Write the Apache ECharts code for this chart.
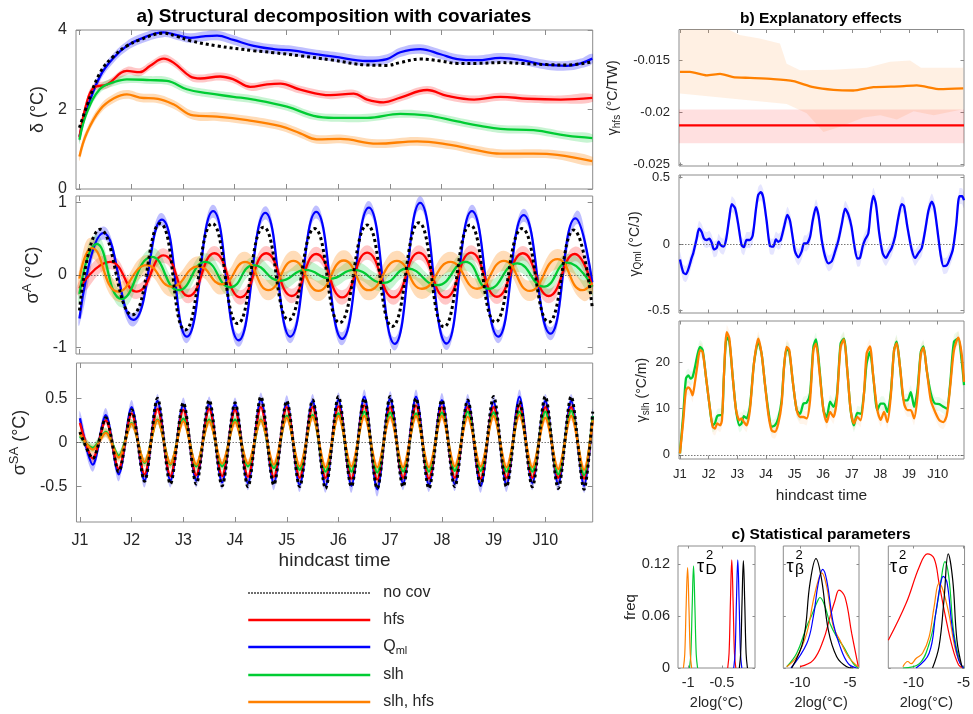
<!DOCTYPE html>
<html>
<head>
<meta charset="utf-8">
<script src="https://cdn.jsdelivr.net/npm/echarts@6/dist/echarts.min.js"></script>
<style>
  html, body { margin: 0; padding: 0; background: #fff; }
  #chart { width: 973px; height: 714px; }
</style>
</head>
<body>
<div id="chart"></div>
<script>
// x positions are months since J1 (January of hindcast year 1)
const janTicks = [0, 12, 24, 36, 48, 60, 72, 84, 96, 108];
const janLabels = ['J1', 'J2', 'J3', 'J4', 'J5', 'J6', 'J7', 'J8', 'J9', 'J10'];

// a) delta
const deltaTicks = [0, 2, 4];
const deltaNoCov = [[0,1.54],[1.7,2.08],[4.8,2.93],[8,3.35],[11,3.6],[14,3.75],[19.5,3.92],[22.6,3.84],[25.7,3.73],[31.9,3.6],[40.4,3.48],[45,3.43],[51.2,3.35],[58.2,3.25],[66.7,3.12],[71.3,3.11],[74.4,3.18],[79,3.27],[83.7,3.22],[87.6,3.16],[92.2,3.16],[97.6,3.18],[102.3,3.16],[108.4,3.13],[113,3.12],[118.9,3.2]];
const deltaQml = [[0,1.32],[1.7,2.0],[4.8,2.84],[8,3.31],[11,3.6],[14,3.77],[19.5,3.94],[22.6,3.87],[25.7,3.8],[28.8,3.84],[31.9,3.86],[35.7,3.75],[40.4,3.6],[45,3.52],[49.7,3.48],[53.5,3.41],[59,3.33],[66.7,3.22],[71.3,3.27],[74.4,3.44],[79,3.52],[83.7,3.39],[87.6,3.27],[92.2,3.24],[97.6,3.3],[102.3,3.25],[108.4,3.12],[113,3.1],[116.2,3.16],[118.9,3.28]];
const deltaHfs = [[0,1.3],[1.5,2.1],[3.3,2.55],[6.4,2.63],[11,2.97],[14,2.94],[16.4,3.1],[19.5,3.28],[21.8,3.18],[25.7,2.83],[28,2.78],[32.6,2.83],[35.7,2.76],[39.6,2.57],[43.5,2.63],[46.6,2.65],[51.2,2.5],[58.2,2.36],[63.6,2.4],[66.7,2.25],[70.5,2.18],[74.4,2.3],[80.6,2.49],[85.3,2.34],[91.5,2.25],[97.6,2.32],[103.9,2.27],[111.6,2.25],[118.9,2.29]];
const deltaSlh = [[0,1.24],[1.7,1.92],[4.8,2.52],[8,2.69],[11,2.76],[16.4,2.74],[20.3,2.72],[24.9,2.51],[29.6,2.41],[35.7,2.32],[40.4,2.25],[48.1,2.07],[54.3,1.84],[59,1.79],[66.7,1.79],[74.4,1.89],[80.6,1.85],[87.6,1.7],[92.9,1.59],[97.6,1.51],[105.3,1.48],[113,1.34],[118.9,1.28]];
const deltaSlhHfs = [[0,0.82],[1.7,1.41],[4.8,2.0],[8,2.28],[11,2.38],[14,2.3],[18.2,2.27],[21.8,2.13],[26.4,1.85],[31.9,1.82],[38.9,1.73],[46.6,1.58],[51.2,1.4],[55,1.25],[60.5,1.26],[69,1.14],[78.3,1.2],[86,1.11],[91.5,0.99],[97.6,0.89],[105.3,0.89],[110.8,0.86],[118.9,0.7]];
const deltaHalf = [0.1, 0.12, 0.1, 0.11]; // hfs, Qml, slh, slh+hfs

// a) sigma^A (annual cycle), extrema
const annTicks = [-1, 0, 1];
const annNoCov = [[0,-0.49],[4.8,0.63],[12.2,-0.55],[18.7,0.71],[24.5,-0.76],[30.8,0.71],[36.7,-0.67],[42.7,0.66],[48.5,-0.62],[54.5,0.64],[60.3,-0.66],[66.7,0.69],[72.5,-0.71],[78.7,0.72],[84.5,-0.715],[90.6,0.69],[96.4,-0.65],[102.6,0.64],[108.8,-0.65],[114.6,0.62],[118.9,-0.45]];
const annQml = [[0,-0.6],[5.6,0.58],[12.5,-0.62],[19.1,0.765],[24.9,-0.85],[31,0.88],[36.9,-0.9],[43.1,0.857],[48.9,-0.85],[54.9,0.87],[60.9,-0.88],[67.1,0.93],[73.1,-0.95],[79,0.995],[85.1,-0.945],[91,0.88],[97.1,-0.85],[103,0.825],[109.2,-0.81],[115,0.78],[118.9,-0.1]];
const annHfs = [[0,-0.18],[7.1,0.18],[13.3,-0.23],[19.5,0.27],[25.3,-0.29],[31.3,0.3],[37.3,-0.31],[43.3,0.3],[49.2,-0.29],[54.9,0.29],[60.9,-0.31],[66.7,0.31],[72.8,-0.31],[78.7,0.31],[84.9,-0.31],[90.8,0.31],[96.8,-0.3],[102.8,0.3],[108.8,-0.29],[114.8,0.29],[118.9,-0.16]];
const annSlh = [[0,-0.26],[4,0.43],[9.8,-0.33],[16.8,0.25],[23,-0.21],[29.2,0.18],[35,-0.17],[40.4,0.135],[46.6,-0.08],[52.4,0.07],[58.2,-0.05],[63.6,0.07],[70.5,-0.11],[76,0.09],[82.9,-0.14],[89.5,0.18],[94.9,-0.19],[101.5,0.16],[107.7,-0.16],[113.1,0.17],[118.9,-0.16]];
const annSlhHfs = [[0,-0.05],[2.9,0.37],[9,-0.23],[15.6,0.135],[21.4,-0.16],[27.6,0.12],[33,-0.13],[38.4,0.18],[43.8,-0.21],[49.6,0.195],[55.4,-0.22],[61.3,0.2],[67.1,-0.21],[73.6,0.195],[79.4,-0.19],[86,0.18],[92.2,-0.19],[98.4,0.195],[104.4,-0.22],[110.8,0.22],[116.6,-0.21],[118.9,-0.11]];
const annHalf = [0.1, 0.09, 0.12, 0.14];

// a) sigma^SA (semi-annual cycle), peaks and troughs
const semiTicks = [-0.5, 0, 0.5];
const semiX = [0,3,6,9,12,15,18,21,24,27,30,33,36,39,42,45,48,51,54,57,60,63,66,69,72,75,78,81,84,87,90,93,96,99,102,105,108,111,114,117,119];
const semiNoCov = [0.12,-0.18,0.28,-0.33,0.37,-0.44,0.50,-0.47,0.45,-0.47,0.48,-0.49,0.45,-0.50,0.52,-0.48,0.47,-0.50,0.48,-0.52,0.52,-0.50,0.50,-0.52,0.52,-0.50,0.50,-0.52,0.48,-0.50,0.48,-0.48,0.52,-0.50,0.46,-0.50,0.52,-0.52,0.52,-0.53,0.35];
const semiQml = [0.275,-0.25,0.31,-0.36,0.40,-0.43,0.47,-0.43,0.43,-0.43,0.44,-0.45,0.43,-0.46,0.485,-0.46,0.455,-0.48,0.47,-0.49,0.485,-0.49,0.52,-0.53,0.50,-0.46,0.52,-0.48,0.48,-0.47,0.47,-0.49,0.46,-0.48,0.52,-0.46,0.47,-0.47,0.47,-0.49,0.3];
const semiHfs = [0.22,-0.18,0.25,-0.30,0.33,-0.36,0.38,-0.38,0.37,-0.37,0.38,-0.38,0.37,-0.39,0.40,-0.39,0.40,-0.40,0.40,-0.40,0.41,-0.41,0.42,-0.42,0.40,-0.40,0.42,-0.41,0.40,-0.40,0.40,-0.41,0.40,-0.40,0.42,-0.40,0.40,-0.40,0.40,-0.41,0.28];
const semiSlh = [0.07,-0.06,0.12,-0.15,0.22,-0.23,0.26,-0.25,0.27,-0.27,0.26,-0.27,0.26,-0.27,0.26,-0.29,0.30,-0.31,0.31,-0.33,0.33,-0.33,0.35,-0.34,0.34,-0.33,0.33,-0.33,0.34,-0.32,0.35,-0.32,0.34,-0.33,0.35,-0.33,0.35,-0.36,0.36,-0.37,0.3];
const semiSlhHfs = [0.10,-0.08,0.11,-0.17,0.21,-0.22,0.25,-0.24,0.24,-0.25,0.24,-0.24,0.23,-0.24,0.25,-0.25,0.28,-0.27,0.29,-0.28,0.30,-0.27,0.30,-0.28,0.29,-0.28,0.30,-0.28,0.30,-0.27,0.29,-0.27,0.30,-0.28,0.31,-0.28,0.28,-0.30,0.30,-0.31,0.25];
const semiHalf = [0.05, 0.08, 0.05, 0.05];

// b) explanatory effects
const gHfsTicks = [-0.025, -0.02, -0.015];
const gHfsSlh = [[0,-0.0161],[4.2,-0.0161],[11.2,-0.01643],[16.8,-0.0163],[22.3,-0.0166],[29.3,-0.01668],[39.1,-0.0168],[47.5,-0.0170],[55.9,-0.01758],[64.3,-0.01784],[72.6,-0.0179],[81,-0.01758],[92.2,-0.0175],[99.2,-0.0174],[109,-0.01777],[118.7,-0.0177]];
const gHfsSlhUpper = [[0,-0.0118],[19.5,-0.0119],[25,-0.01254],[33.4,-0.01286],[41.9,-0.01335],[44.7,-0.0153],[50.3,-0.01594],[64.3,-0.0159],[78.3,-0.0157],[88,-0.01513],[96.4,-0.015],[101,-0.0157],[118.7,-0.0157]];
const gHfsSlhLower = [[0,-0.0182],[22.3,-0.0187],[44.7,-0.0192],[53.1,-0.0201],[60.1,-0.0219],[67.1,-0.0214],[76.9,-0.0205],[83.9,-0.0203],[90.9,-0.0207],[97.9,-0.0199],[106.3,-0.0203],[118.7,-0.0197]];
const gHfs = [[-0.4,-0.02128],[119,-0.02128]];
const gHfsBand = [-0.0230, -0.01973];

const gQmlTicks = [-0.5, 0, 0.5];
const gQml = [[0,-0.117],[1.4,-0.215],[2.5,-0.227],[3.5,-0.19],[4.9,-0.105],[5.6,-0.068],[7.0,0.04],[8.0,0.115],[9.1,0.09],[10.1,0.04],[11.2,0.03],[12.3,0.04],[13.3,0.01],[14.2,-0.04],[15.4,-0.03],[16.2,0.017],[17.0,-0.007],[18.2,-0.02],[19.3,0.03],[20.7,0.2],[21.7,0.3],[23.1,0.27],[24.4,0.15],[25.8,-0.007],[26.8,-0.024],[27.9,0.03],[29.3,0.03],[30.5,0.066],[31.9,0.27],[32.8,0.37],[33.9,0.39],[34.9,0.35],[36.3,0.175],[37.7,-0.015],[39.1,-0.02],[40.2,0.034],[41.2,0.017],[42.2,0.03],[43.6,0.127],[45.0,0.22],[46.1,0.175],[47.2,0.054],[48.2,-0.056],[49.6,-0.1],[51.0,-0.056],[52.0,0.005],[53.1,0.005],[54.5,0.054],[55.6,0.175],[57.0,0.278],[58.1,0.21],[59.4,0.03],[60.8,-0.093],[62.2,-0.146],[63.6,-0.13],[65.0,-0.056],[66.4,0.03],[67.8,0.15],[69.2,0.266],[70.6,0.22],[71.9,0.127],[72.9,0.005],[74.3,-0.11],[75.4,-0.105],[76.6,-0.015],[77.5,0.03],[78.9,0.078],[79.9,0.25],[81.0,0.363],[82.1,0.30],[83.5,0.078],[84.9,-0.068],[86.3,-0.105],[87.5,-0.068],[88.7,-0.03],[90.1,0.054],[91.5,0.2],[92.9,0.30],[93.9,0.285],[95.3,0.127],[97.1,-0.044],[98.5,-0.105],[99.9,-0.068],[101.3,-0.03],[102.7,0.1],[104.1,0.25],[105.5,0.32],[106.6,0.27],[107.9,0.1],[109.2,-0.08],[110.4,-0.166],[111.8,-0.16],[112.9,-0.117],[114.3,-0.044],[115.7,0.14],[117.1,0.36],[118.2,0.36],[119.0,0.33]];
const gQmlHalf = 0.06;

const gSlhTicks = [0, 10, 20];
const gSlhX = [0,1.4,2.5,3.5,4.5,5.3,6.3,7.3,8.4,9.5,10.9,12.3,13.7,14.7,15.6,16.8,17.6,18.4,19.6,20.7,22.1,23.5,24.9,25.8,26.8,27.9,29.3,31.0,32.8,34.2,35.6,37.0,38.4,39.8,41.2,42.6,43.6,44.7,45.8,47.2,48.9,50.3,51.7,53.1,54.5,55.9,57.0,58.4,60.1,61.5,62.9,64.3,65.7,67.3,68.7,70.1,71.5,72.9,74.3,75.7,77.1,78.2,79.6,81.0,82.7,84.1,85.5,86.9,88.3,89.7,90.8,92.2,93.9,95.3,96.7,98.1,99.5,100.9,102.0,103.4,105.1,106.9,108.7,110.4,111.8,113.2,114.8,116.6,118.0,119.0];
const gSlhHfs = [0.3,7.5,14,14.6,14,12.9,15.8,19.4,22.7,22.3,16.9,11.1,6.1,5.7,6.8,6.4,7.5,16.9,26.6,25.2,16.9,9.7,7.5,7.9,7.1,6.4,9.7,19.8,25.2,21.9,15.4,8.9,5.3,5.0,6.8,11.1,19.0,23.4,22.7,16.2,9.7,8.2,8.2,7.9,11.8,22.7,24.1,18.3,9.7,7.1,9.3,8.2,11.8,23.4,25.0,18.3,9.7,6.8,8.2,7.5,13.3,21.9,23.5,16.9,9.7,7.6,9.3,7.1,12.6,22.7,24.2,19.0,11.1,9.7,9.7,7.9,12.6,21.9,23.2,18.3,11.8,9.3,7.5,7.1,8.6,14.7,22.7,25.4,21.9,15.8];
const gSlh = [0.3,8.9,16.5,17.2,16.5,16.9,19.0,21.6,23.4,22.7,16.9,11.1,6.4,6.9,8.4,8.6,8.6,16.9,25.5,24.5,16.9,9.7,6.4,6.8,8.4,7.9,10.4,19.8,24.5,21.9,15.4,9.7,6.1,6.4,7.9,11.8,19.0,23.0,22.3,16.2,9.7,8.9,11.1,11.3,13.3,23.4,25.0,19.0,9.7,8.2,11.5,10.4,12.6,24.1,25.2,18.3,9.7,6.4,9.1,8.9,13.3,19.8,22.3,16.9,9.7,11.1,11.1,9.3,13.3,22.7,24.5,19.0,11.8,11.8,13.6,10.4,14.0,22.3,23.5,18.3,13.3,11.1,11.0,10.4,10.0,15.4,24.5,25.2,20.5,15.1];
const gSlhHalf = 1.5;

// c) statistical parameters (posterior densities)
const freqTicks = [0, 0.06, 0.12];
const tauDTicks = [-1, -0.5];
const tauTicks = [-10, -5];
const h1NoCov = [[-0.242,0],[-0.222,0.017],[-0.202,0.076],[-0.182,0.124],[-0.162,0.076],[-0.142,0.017],[-0.122,0]];
const h1Qml = [[-0.325,0],[-0.305,0.017],[-0.285,0.076],[-0.265,0.125],[-0.245,0.076],[-0.225,0.017],[-0.205,0]];
const h1Hfs = [[-0.414,0],[-0.394,0.017],[-0.374,0.076],[-0.354,0.125],[-0.334,0.076],[-0.314,0.017],[-0.294,0]];
const h1Slh = [[-0.98,0],[-0.96,0.016],[-0.94,0.071],[-0.92,0.118],[-0.90,0.071],[-0.88,0.016],[-0.86,0]];
const h1SlhHfs = [[-1.07,0],[-1.05,0.016],[-1.03,0.07],[-1.008,0.116],[-0.988,0.07],[-0.968,0.016],[-0.948,0]];
const h2NoCov = [[-10.83,0],[-9.67,0.032],[-9,0.098],[-8.4,0.1265],[-7.83,0.1015],[-7.17,0.044],[-6.33,0.013],[-5.33,0.0015],[-4.67,0]];
const h2Qml = [[-10.9,0],[-9.33,0.028],[-8.67,0.059],[-8.17,0.098],[-7.73,0.114],[-7.33,0.1015],[-6.67,0.0515],[-6,0.025],[-5.17,0.005],[-4.33,0]];
const h2Hfs = [[-10,0.0015],[-8.67,0.009],[-7.67,0.032],[-7,0.059],[-6.5,0.078],[-6.1,0.09],[-5.5,0.082],[-4.83,0.04],[-4.17,0.0015]];
const h2Slh = [[-11.33,0.0015],[-10.33,0.017],[-9.33,0.048],[-8.83,0.061],[-8.33,0.075],[-8,0.0815],[-7.5,0.071],[-7,0.0515],[-6.33,0.036],[-5.67,0.025],[-4.67,0.005],[-4.17,0]];
const h2SlhHfs = [[-11.33,0.0015],[-10.33,0.013],[-9.33,0.04],[-8.67,0.078],[-8.17,0.1015],[-7.83,0.11],[-7.33,0.094],[-6.67,0.048],[-6,0.032],[-5.17,0.013],[-4.17,0.0015]];
const h3NoCov = [[-8.1,0],[-7.45,0.025],[-6.96,0.078],[-6.53,0.132],[-6.08,0.1015],[-5.66,0.032],[-5.16,0.0015]];
const h3Qml = [[-9.75,0],[-8.44,0.017],[-7.78,0.063],[-7.29,0.098],[-7.03,0.106],[-6.64,0.098],[-6.14,0.048],[-5.49,0.009],[-5,0]];
const h3Hfs = [[-12.52,0.032],[-10.73,0.075],[-9.42,0.117],[-8.6,0.132],[-7.94,0.1265],[-7.45,0.098],[-6.8,0.059],[-6.14,0.025],[-5.49,0.0035],[-5.0,0]];
const h3Slh = [[-11.06,0],[-9.42,0.005],[-8.44,0.028],[-7.78,0.063],[-7.29,0.098],[-6.86,0.123],[-6.47,0.105],[-5.97,0.04],[-5.32,0.005],[-4.95,0]];
const h3SlhHfs = [[-11.06,0.0015],[-10.57,0.0075],[-10.24,0.005],[-9.75,0.011],[-9.1,0.017],[-8.44,0.036],[-7.94,0.071],[-7.45,0.098],[-7.06,0.09],[-6.47,0.063],[-5.81,0.021],[-5.16,0.0015]];

// ---------------------------------------------------------------
const FONT = '"Liberation Sans", Arial, Helvetica, sans-serif';
const AX = '#8c8c8c';
const TXT = '#262626';
const COL = { noCov: '#000000', hfs: '#ff0000', qml: '#0000ff', slh: '#00cc33', slhHfs: '#ff8000' };
const LW = 2.3;

const grids = [], xAxis = [], yAxis = [], series = [];

const zip = (xs, ys) => xs.map((x, i) => [x, ys[i]]);
const around = (pts, hw) => pts.map(([x, y]) => [x, y + hw]).concat(pts.map(([x, y]) => [x, y - hw]).reverse());
const janFmt = v => janLabels[janTicks.indexOf(v)];

const richA = {
  m: { fontSize: 18, lineHeight: 24, fontFamily: FONT, color: TXT },
  p: { fontSize: 13, lineHeight: 13, verticalAlign: 'top', fontFamily: FONT, color: TXT }
};
const richB = {
  m: { fontSize: 14, lineHeight: 18, fontFamily: FONT, color: TXT },
  s: { fontSize: 10, lineHeight: 8, verticalAlign: 'bottom', fontFamily: FONT, color: TXT }
};

function panel(o) {
  const g = grids.length;
  grids.push({ left: o.left, top: o.top, width: o.width, height: o.height, show: true,
    borderColor: AX, borderWidth: 1, backgroundColor: 'rgba(0,0,0,0)' });
  const tick = vals => ({ show: true, inside: true, length: o.tl, customValues: vals, lineStyle: { color: AX, width: 1 } });
  const base = { gridIndex: g, type: 'value', axisLine: { show: false, onZero: false }, splitLine: { show: false }, silent: true };
  const xLbl = { show: !!o.xl, customValues: o.xt, fontSize: o.fs, color: TXT, fontFamily: FONT, margin: o.xm || 8 };
  if (o.xfmt) xLbl.formatter = o.xfmt;
  xAxis.push(Object.assign({}, base, {
    min: o.xmin, max: o.xmax, position: 'bottom', axisTick: tick(o.xt), axisLabel: xLbl,
    name: o.xname || '', nameLocation: 'middle', nameGap: o.xgap || 20,
    nameTextStyle: { fontSize: o.xnfs || o.fs, color: TXT, fontFamily: FONT }
  }));
  xAxis.push(Object.assign({}, base, { min: o.xmin, max: o.xmax, position: 'top', axisTick: tick(o.xt), axisLabel: { show: false } }));
  yAxis.push(Object.assign({}, base, {
    min: o.ymin, max: o.ymax, position: 'left', axisTick: tick(o.yt),
    axisLabel: { show: !!o.yl, customValues: o.yt, fontSize: o.fs, color: TXT, fontFamily: FONT, margin: o.ym || 8 },
    name: o.yname || '', nameLocation: 'middle', nameGap: o.ygap || 20, nameRotate: 90,
    nameTextStyle: { color: TXT, fontFamily: FONT, fontSize: o.ynfs || 16, rich: o.yrich }
  }));
  yAxis.push(Object.assign({}, base, { min: o.ymin, max: o.ymax, position: 'right', axisTick: tick(o.yt), axisLabel: { show: false } }));
  return { xi: xAxis.length - 2, yi: yAxis.length - 2 };
}

function band(ax, pts, color, smooth) {
  return {
    type: 'custom', xAxisIndex: ax.xi, yAxisIndex: ax.yi, silent: true, clip: true, z: 1,
    data: [pts[0]],
    renderItem: (params, api) => ({
      type: 'polygon',
      shape: { points: pts.map(p => api.coord(p)), smooth: smooth || 0 },
      style: { fill: color }
    })
  };
}

function line(ax, name, data, color, width, smooth, extra) {
  return Object.assign({
    type: 'line', name, xAxisIndex: ax.xi, yAxisIndex: ax.yi, data,
    symbol: 'none', showSymbol: false, smooth, silent: true, z: 3,
    lineStyle: { color, width }, itemStyle: { color }, emphasis: { disabled: true }
  }, extra || {});
}

const zeroLine = {
  silent: true, symbol: 'none', label: { show: false }, animation: false,
  lineStyle: { color: '#555', width: 0.8, type: [1.5, 1.5] }, data: [{ yAxis: 0 }]
};

// panel a
const pA1 = panel({ left: 76, top: 30, width: 516.7, height: 159, xmin: -0.8, xmax: 119, xt: janTicks,
  ymin: 0, ymax: 4, yt: deltaTicks, yl: true, fs: 16, ym: 9, tl: 5,
  yname: '{m|δ (°C)}', ygap: 19, yrich: richA, ynfs: 18 });
const pA2 = panel({ left: 76, top: 196, width: 516.7, height: 158, xmin: -0.8, xmax: 119, xt: janTicks,
  ymin: -1.09, ymax: 1.09, yt: annTicks, yl: true, fs: 16, ym: 9, tl: 5,
  yname: '{m|σ}{p|A}{m| (°C)}', ygap: 23, yrich: richA, ynfs: 18 });
const pA3 = panel({ left: 76, top: 363, width: 516.7, height: 159, xmin: -0.8, xmax: 119, xt: janTicks,
  xl: true, xfmt: janFmt, xm: 11, xname: 'hindcast time', xgap: 29, xnfs: 19,
  ymin: -0.9, ymax: 0.9, yt: semiTicks, yl: true, fs: 16, ym: 9, tl: 5,
  yname: '{m|σ}{p|SA}{m| (°C)}', ygap: 38, yrich: richA, ynfs: 18 });

const BAND_A = { hfs: 'rgba(255,0,0,0.22)', qml: 'rgba(0,0,255,0.25)', slh: 'rgba(0,204,51,0.22)', slhHfs: 'rgba(255,128,0,0.28)' };

function decomp(ax, d, half, sm, withZero) {
  series.push(band(ax, around(d.qml, half[1]), BAND_A.qml, sm));
  series.push(band(ax, around(d.hfs, half[0]), BAND_A.hfs, sm));
  series.push(band(ax, around(d.slh, half[2]), BAND_A.slh, sm));
  series.push(band(ax, around(d.slhHfs, half[3]), BAND_A.slhHfs, sm));
  series.push(line(ax, 'Qml', d.qml, COL.qml, LW, sm, withZero ? { markLine: zeroLine } : null));
  series.push(line(ax, 'hfs', d.hfs, COL.hfs, LW, sm));
  series.push(line(ax, 'slh', d.slh, COL.slh, LW, sm));
  series.push(line(ax, 'slh, hfs', d.slhHfs, COL.slhHfs, LW, sm));
  series.push(line(ax, 'no cov', d.noCov, COL.noCov, 3, sm, { lineStyle: { color: '#000', width: 3, type: 'dotted' }, z: 4 }));
}

decomp(pA1, { noCov: deltaNoCov, qml: deltaQml, hfs: deltaHfs, slh: deltaSlh, slhHfs: deltaSlhHfs }, deltaHalf, 0.4, false);
decomp(pA2, { noCov: annNoCov, qml: annQml, hfs: annHfs, slh: annSlh, slhHfs: annSlhHfs }, annHalf, 0.5, true);
decomp(pA3, { noCov: zip(semiX, semiNoCov), qml: zip(semiX, semiQml), hfs: zip(semiX, semiHfs),
  slh: zip(semiX, semiSlh), slhHfs: zip(semiX, semiSlhHfs) }, semiHalf, 0.3, true);

// panel b
const pB1 = panel({ left: 679, top: 29.5, width: 285, height: 136.5, xmin: -0.4, xmax: 119, xt: janTicks,
  ymin: -0.0252, ymax: -0.012, yt: gHfsTicks, yl: true, fs: 13, ym: 9, tl: 3.5,
  yname: '{m|γ}{s|hfs}{m| (°C/TW)}', ygap: 57, yrich: richB, ynfs: 14 });
const pB2 = panel({ left: 679, top: 175, width: 285, height: 138, xmin: -0.4, xmax: 119, xt: janTicks,
  ymin: -0.52, ymax: 0.52, yt: gQmlTicks, yl: true, fs: 13, ym: 9, tl: 3.5,
  yname: '{m|γ}{s|Qml}{m| (°C/J)}', ygap: 35, yrich: richB, ynfs: 14 });
const pB3 = panel({ left: 679, top: 321, width: 285, height: 138, xmin: -0.4, xmax: 119, xt: janTicks,
  xl: true, xfmt: janFmt, xm: 9, xname: 'hindcast time', xgap: 29, xnfs: 15.5,
  ymin: -0.9, ymax: 29, yt: gSlhTicks, yl: true, fs: 13, ym: 9, tl: 3.5,
  yname: '{m|γ}{s|slh}{m| (°C/m)}', ygap: 26, yrich: richB, ynfs: 14 });

series.push(band(pB1, gHfsSlhUpper.concat(gHfsSlhLower.slice().reverse()), 'rgba(255,140,40,0.13)', 0));
series.push(band(pB1, [[-0.4, gHfsBand[0]], [119, gHfsBand[0]], [119, gHfsBand[1]], [-0.4, gHfsBand[1]]], 'rgba(255,0,0,0.12)', 0));
series.push(line(pB1, 'slh, hfs', gHfsSlh, COL.slhHfs, LW, 0.2));
series.push(line(pB1, 'hfs', gHfs, COL.hfs, LW, false));

series.push(band(pB2, around(gQml, gQmlHalf), 'rgba(0,0,255,0.1)', 0.2));
series.push(line(pB2, 'Qml', gQml, COL.qml, LW, 0.25, { markLine: zeroLine }));

series.push(band(pB3, around(zip(gSlhX, gSlh), gSlhHalf), 'rgba(0,204,51,0.08)', 0.2));
series.push(band(pB3, around(zip(gSlhX, gSlhHfs), gSlhHalf), 'rgba(255,128,0,0.08)', 0.2));
series.push(line(pB3, 'slh', zip(gSlhX, gSlh), COL.slh, LW, 0.25, { markLine: zeroLine }));
series.push(line(pB3, 'slh, hfs', zip(gSlhX, gSlhHfs), COL.slhHfs, LW, 0.25));

// panel c
const pC1 = panel({ left: 678, top: 546, width: 77, height: 122, xmin: -1.15, xmax: -0.01, xt: tauDTicks,
  xl: true, xm: 7, xname: '2log(°C)', xgap: 27, xnfs: 14.5,
  ymin: 0, ymax: 0.141, yt: freqTicks, yl: true, fs: 14.5, ym: 8, tl: 2.5,
  yname: 'freq', ygap: 40, ynfs: 15 });
const pC2 = panel({ left: 783.3, top: 546, width: 75.7, height: 122, xmin: -11.67, xmax: -4.1, xt: tauTicks,
  xl: true, xm: 7, xname: '2log(°C)', xgap: 27, xnfs: 14.5,
  ymin: 0, ymax: 0.141, yt: freqTicks, fs: 14.5, tl: 2.5 });
const pC3 = panel({ left: 888.3, top: 546, width: 77.7, height: 122, xmin: -12.52, xmax: -4.9, xt: tauTicks,
  xl: true, xm: 7, xname: '2log(°C)', xgap: 27, xnfs: 14.5,
  ymin: 0, ymax: 0.141, yt: freqTicks, fs: 14.5, tl: 2.5 });

[[pC1, h1Hfs, h1Slh, h1SlhHfs, h1Qml, h1NoCov],
 [pC2, h2Hfs, h2Slh, h2SlhHfs, h2Qml, h2NoCov],
 [pC3, h3Hfs, h3Slh, h3SlhHfs, h3Qml, h3NoCov]].forEach(([ax, hfs, slh, slhHfs, qml, noCov]) => {
  series.push(line(ax, 'hfs', hfs, COL.hfs, 1.2, 0.4));
  series.push(line(ax, 'slh', slh, COL.slh, 1.2, 0.4));
  series.push(line(ax, 'slh, hfs', slhHfs, COL.slhHfs, 1.2, 0.4));
  series.push(line(ax, 'Qml', qml, COL.qml, 1.2, 0.4));
  series.push(line(ax, 'no cov', noCov, COL.noCov, 1.2, 0.4));
});

// text annotations
function txt(x, y, text, size, weight, align) {
  return { type: 'text', x, y, silent: true, style: {
    text, fontSize: size, fontWeight: weight || 'normal', fontFamily: FONT, fill: '#000',
    align: align || 'center', verticalAlign: 'middle', textAlign: align || 'center', textVerticalAlign: 'middle' } };
}
function tau(x, y, sub) {
  return [txt(x, y, 'τ', 18, 'normal', 'left'), txt(x + 9, y - 12, '2', 13, 'normal', 'left'), txt(x + 8.5, y + 3, sub, 15.5, 'normal', 'left')];
}
const graphic = [
  txt(334, 17, 'a) Structural decomposition with covariates', 19, 'bold'),
  txt(821, 19, 'b) Explanatory effects', 15.5, 'bold'),
  txt(821, 535, 'c) Statistical parameters', 15.5, 'bold')
].concat(tau(697, 567, 'D'), tau(786.5, 567, 'β'), tau(890, 567, 'σ'));

const chart = echarts.init(document.getElementById('chart'));
chart.setOption({
  animation: false,
  backgroundColor: '#fff',
  grid: grids, xAxis, yAxis, series, graphic,
  legend: {
    left: 247, top: 585, orient: 'vertical', itemWidth: 122, itemHeight: 14, itemGap: 11,
    selectedMode: false, padding: 0,
    itemStyle: { color: 'rgba(0,0,0,0)', borderColor: 'rgba(0,0,0,0)', borderWidth: 0 },
    lineStyle: { width: 2.5 },
    textStyle: { fontSize: 16, color: TXT, fontFamily: FONT, padding: [0, 0, 0, 8],
      rich: { m: { fontSize: 16, lineHeight: 18, fontFamily: FONT, color: TXT },
              s: { fontSize: 11, lineHeight: 6, verticalAlign: 'bottom', fontFamily: FONT, color: TXT } } },
    formatter: n => n === 'Qml' ? '{m|Q}{s|ml}' : n,
    data: [{ name: 'no cov', lineStyle: { width: 1.5 } }, 'hfs', 'Qml', 'slh', 'slh, hfs']
  }
});
</script>
</body>
</html>
